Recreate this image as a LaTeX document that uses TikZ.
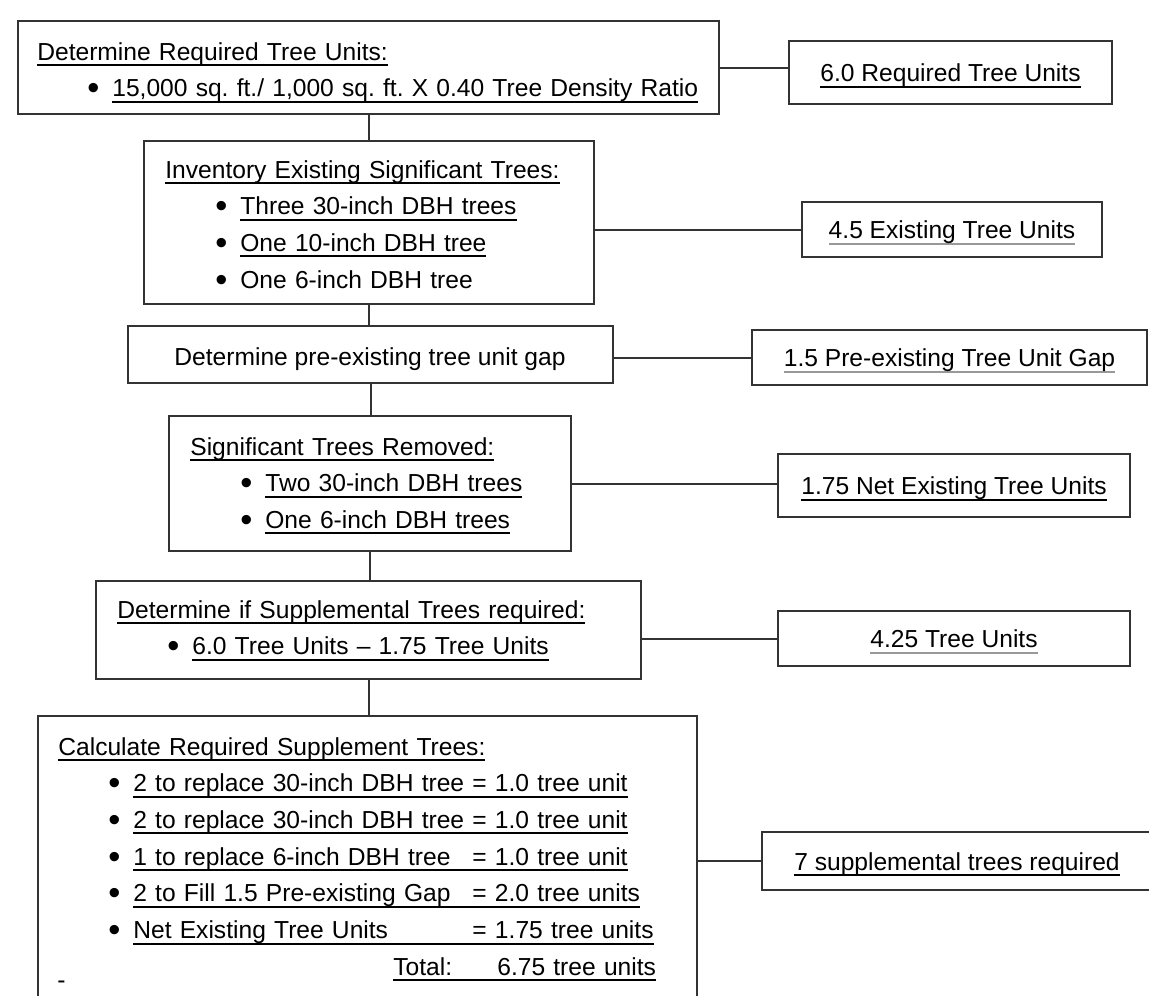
\documentclass[tikz,border=0pt]{standalone}
\usepackage{fontspec}
\setmainfont{Liberation Sans}
\usepackage{graphicx}
\frenchspacing
\newlength\px
\setlength\px{0.02cm}
\newlength\eqtab
\newsavebox\lnbox
% underlined text, strong and faint
\newcommand\undl[1]{\sbox\lnbox{#1}\rlap{\rule[-6\px]{\wd\lnbox}{2\px}}\usebox\lnbox}
\newcommand\faintl[1]{\sbox\lnbox{#1}\rlap{\color{black!40}\rule[-6\px]{\wd\lnbox}{1.5\px}}\usebox\lnbox}
\newcommand\bul{\hspace*{50\px}\makebox[25\px][l]{\raisebox{-3\px}{\scalebox{1.4}{•}}}}
\tikzset{
  box/.style={draw=black!80, line width=2\px, inner sep=0pt},
  lbox/.style 2 args={box, anchor=north west, minimum width=#1\px, minimum height=#2\px},
  rbox/.style 2 args={box, minimum width=#1\px, minimum height=#2\px, text height=18\px, text depth=0pt},
  txt/.style={anchor=base west, inner sep=0pt, align=left, text width=#1\px},
  link/.style={draw=black!80, line width=2\px}
}
\begin{document}
\begin{tikzpicture}[x=0.02cm, y=-0.02cm, font=\fontsize{24.6\px}{36.7\px}\selectfont]
  \useasboundingbox (0,0) rectangle (1149,995);
  \clip (0,0) rectangle (1149,995);
  % main column
  \node[lbox={701}{93}] (req) at (17,20) {};
  \node[lbox={450}{163}] (inv) at (143,140) {};
  \node[lbox={485}{57}] (gap) at (127,325) {};
  \node[lbox={402}{135}] (rem) at (168,415) {};
  \node[lbox={545}{98}] (sup) at (95,580) {};
  \node[lbox={659}{290}] (calc) at (37,715) {};
  % texts of the main column
  \node[txt=670] (req-t) at (37,60)
    {\undl{Determine Required Tree Units:}\\
     \bul\undl{15,000 sq. ft./ 1,000 sq. ft. X 0.40 Tree Density Ratio}};
  \node[txt=420] (inv-t) at (165,178)
    {\undl{Inventory Existing Significant Trees:}\\
     \bul\undl{Three 30-inch DBH trees}\\
     \bul\undl{One 10-inch DBH tree}\\
     \bul One 6-inch DBH tree};
  \node[anchor=base, inner sep=0pt] (gap-t) at (370,365) {Determine pre-existing tree unit gap};
  \node[txt=370] (rem-t) at (190,455)
    {\undl{Significant Trees Removed:}\\
     \bul\undl{Two 30-inch DBH trees}\\
     \bul\undl{One 6-inch DBH trees}};
  \node[txt=520] (sup-t) at (117,618)
    {\undl{Determine if Supplemental Trees required:}\\
     \bul\undl{6.0 Tree Units – 1.75 Tree Units}};
  \node[txt=630] (calc-t) at (58,755)
    {\settowidth{\eqtab}{2 to replace 30-inch DBH tree }%
     \undl{Calculate Required Supplement Trees:}\\
     \bul\undl{2 to replace 30-inch DBH tree = 1.0 tree unit}\\
     \bul\undl{2 to replace 30-inch DBH tree = 1.0 tree unit}\\
     \bul\undl{\makebox[\eqtab][l]{1 to replace 6-inch DBH tree}= 1.0 tree unit}\\
     \bul\undl{\makebox[\eqtab][l]{2 to Fill 1.5 Pre-existing Gap}= 2.0 tree units}\\
     \bul\undl{\makebox[\eqtab][l]{Net Existing Tree Units}= 1.75 tree units}\\
     \hspace*{335\px}\undl{\makebox[104\px][l]{Total:}6.75 tree units}};
  \node[anchor=base west, inner sep=0pt] (dash) at (57,988) {-};
  % result boxes
  \node[rbox={323}{63}] (r-req) at (950.5,72.5) {\undl{6.0 Required Tree Units}};
  \node[rbox={300}{55}] (r-inv) at (952,229.5) {\faintl{4.5 Existing Tree Units}};
  \node[rbox={395}{55}] (r-gap) at (949.5,357.5) {\faintl{1.5 Pre-existing Tree Unit Gap}};
  \node[rbox={352}{63}] (r-rem) at (954,485.5) {\undl{1.75 Net Existing Tree Units}};
  \node[rbox={352}{55}] (r-sup) at (954,638.5) {\faintl{4.25 Tree Units}};
  \node[rbox={390}{58}] (r-calc) at (957,861) {\undl{7 supplemental trees required}};
  % spine
  \draw[link] (req.south) -- (req.south |- inv.north);
  \draw[link] (inv.south) -- (inv.south |- gap.north);
  \draw[link] (gap.south) -- (gap.south |- rem.north);
  \draw[link] (rem.south) -- (rem.south |- sup.north);
  \draw[link] (sup.south) -- (sup.south |- calc.north);
  % branches
  \draw[link] (req.east) -- (req.east -| r-req.west);
  \draw[link] (inv.east |- r-inv.west) -- (r-inv.west);
  \draw[link] (gap.east |- r-gap.west) -- (r-gap.west);
  \draw[link] (rem.east) -- (rem.east -| r-rem.west);
  \draw[link] (sup.east |- r-sup.west) -- (r-sup.west);
  \draw[link] (calc.east) -- (calc.east -| r-calc.west);
\end{tikzpicture}
\end{document}
